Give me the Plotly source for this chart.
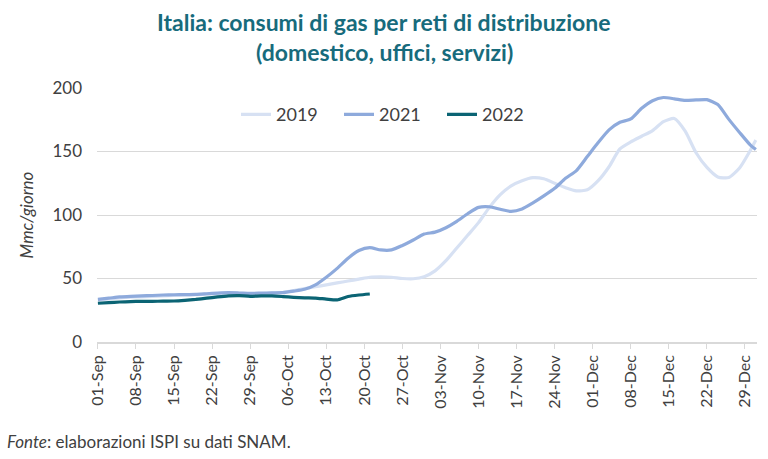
import plotly.graph_objects as go
import pandas as pd

# Days since 01-Sep (sampled every 2 days) and values in Mmc/giorno
days_2019 = [0, 2, 4, 6, 8, 10, 12, 14, 16, 18, 20, 22, 24, 26, 28, 30, 32, 34, 36, 38,
             40, 42, 44, 46, 48, 50, 52, 54, 56, 58, 60, 62, 64, 66, 68, 70, 72, 74, 76, 78,
             80, 82, 84, 86, 88, 90, 92, 94, 96, 98, 100, 102, 104, 106, 108, 110, 112, 114,
             116, 118, 120, 121]
vals_2019 = [33, 34, 34.8, 35.3, 35.6, 36, 36.3, 36.6, 37, 37.3, 37.7, 38, 38.3, 38.3, 38, 38.2,
             38.5, 39, 40.5, 42, 43.5, 45, 46.5, 48, 49.5, 51, 51.3, 51, 50, 49.8, 51.4, 56, 64,
             74, 84, 94, 106, 116, 123, 127, 129.4, 128.5, 125, 121.5, 119, 119.8, 127, 138, 152,
             157.5, 162, 166.5, 173.5, 176, 166, 149, 137.5, 130, 129.5, 137, 151, 159]

days_2021 = [0, 2, 4, 6, 8, 10, 12, 14, 16, 18, 20, 22, 24, 26, 28, 30, 32, 34, 36, 38,
             40, 42, 44, 46, 48, 50, 52, 54, 56, 58, 60, 62, 64, 66, 68, 70, 72, 74, 76, 78,
             80, 82, 84, 86, 88, 90, 92, 94, 96, 98, 100, 102, 104, 106, 108, 110, 112, 114,
             116, 118, 120, 121]
vals_2021 = [33.6, 34.5, 35.5, 36, 36.3, 36.6, 37, 37.2, 37.3, 37.5, 38, 38.5, 38.8, 38.6, 38.3,
             38.5, 38.7, 38.8, 40, 41.5, 45, 51, 58, 66, 72, 74.3, 72.5, 72.5, 76, 80.3, 85, 86.5,
             90, 95, 101, 106, 106.5, 104.5, 102.8, 104.7, 109.5, 115, 121, 128.9, 135, 146, 157,
             167, 173, 175.6, 184, 190, 192.5, 191.5, 190.2, 190.6, 190.8, 187, 175.5, 165, 155,
             151.5]

days_2022 = [0, 2, 4, 6, 8, 10, 12, 14, 16, 18, 20, 22, 24, 26, 28, 30, 32, 34, 36, 38,
             40, 42, 44, 46, 48, 50]
vals_2022 = [30.5, 31, 31.5, 31.8, 32, 32, 32.2, 32.3, 32.8, 33.5, 34.5, 35.5, 36.3, 36.5, 36,
             36.3, 36.3, 35.8, 35.2, 34.8, 34.6, 33.8, 33.2, 35.8, 37, 37.8]

title_lines = ["Italia: consumi di gas per reti di distribuzione", "(domestico, uffici, servizi)"]

start = pd.Timestamp("2021-09-01")


def to_dates(days):
    return [start + pd.Timedelta(days=d) for d in days]


fig = go.Figure()
series = [
    ("2019", days_2019, vals_2019, "#d7e1f3"),
    ("2021", days_2021, vals_2021, "#8eaadc"),
    ("2022", days_2022, vals_2022, "#0b6474"),
]
for name, d, v, c in series:
    fig.add_trace(go.Scatter(
        x=to_dates(d), y=v, name=name, mode="lines",
        line=dict(color=c, width=3.2, shape="spline", smoothing=0.6),
    ))

PLOT_H = 254
fig.update_layout(
    width=768, height=459,
    margin=dict(l=97, r=11, t=88, b=117),
    paper_bgcolor="white", plot_bgcolor="white",
    font=dict(family="Lato", color="#404040"),
    legend=dict(
        orientation="h", x=(236 - 97) / 660, xanchor="left", y=0.895, yanchor="middle",
        font=dict(size=18, color="#404040"), bgcolor="rgba(0,0,0,0)",
        itemwidth=30, entrywidth=58, entrywidthmode="pixels",
    ),
    showlegend=True,
)

for i, (line, ypx) in enumerate(zip(title_lines, [22, 52])):
    fig.add_annotation(
        text="<b>" + line + "</b>", xref="paper", yref="paper",
        x=(384 - 97) / 660, y=(342 - ypx) / PLOT_H, xanchor="center", yanchor="middle",
        showarrow=False, font=dict(family="Lato", size=23, color="#176b7c"),
    )

fig.update_xaxes(
    type="date",
    range=[start - pd.Timedelta(hours=4), start + pd.Timedelta(days=121, hours=5)],
    tick0=start, dtick=7 * 86400000, tickformat="%d-%b", tickangle=-90,
    ticks="outside", ticklen=5, tickcolor="#d9d9d9",
    showline=True, linecolor="#d9d9d9", linewidth=1.5,
    showgrid=False, tickfont=dict(size=16, color="#404040"),
)
fig.update_yaxes(
    range=[0, 200], dtick=50, showgrid=True, gridcolor="#d9d9d9", gridwidth=1.2,
    zeroline=False, tickfont=dict(size=17, color="#404040"), ticklabelstandoff=14,
    title=dict(text="<i>Mmc/giorno</i>", font=dict(size=17, color="#404040"), standoff=14),
)

fig.add_annotation(
    text="<i>Fonte</i>: elaborazioni ISPI su dati SNAM.",
    xref="paper", yref="paper", x=-97 / 660, y=-(441 - 342) / PLOT_H,
    xanchor="left", yanchor="middle", showarrow=False,
    font=dict(size=17, color="#404040"), xshift=5,
)

fig.write_html("out.html")
